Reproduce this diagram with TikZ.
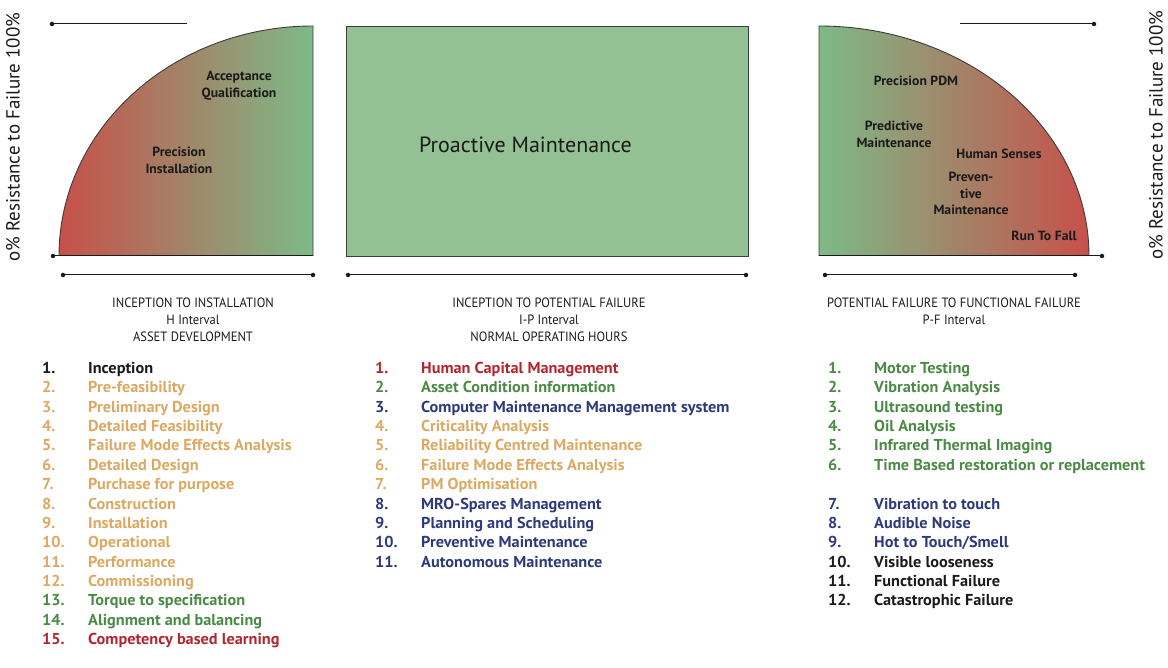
\documentclass[tikz,border=0pt]{standalone}
\usepackage{fontspec}
\setmainfont{PT Sans}
\newfontfamily\condfont[FakeStretch=0.93]{PT Sans}
\newfontfamily\itemfont[FakeStretch=1.03]{PT Sans}
\definecolor{cblack}{HTML}{1A1A1A}
\definecolor{ctan}{HTML}{DCA862}
\definecolor{cgreen}{HTML}{4B8A45}
\definecolor{cred}{HTML}{B3262F}
\definecolor{cnavy}{HTML}{2E3A7C}
\definecolor{qred}{HTML}{C7504A}
\definecolor{qgreen}{HTML}{7DBA87}
\definecolor{pgreen}{HTML}{93C193}
\tikzset{
  item/.style={anchor=base west, inner sep=0pt, font=\itemfont\fontsize{15.8}{18}\selectfont\bfseries},
  qlabel/.style={inner sep=0pt, align=center, text=cblack, font=\itemfont\fontsize{13.3}{16.5}\selectfont\bfseries},
  caption/.style={inner sep=0pt, align=center, text=cblack, font=\condfont\fontsize{13.5}{17}\selectfont},
  rule/.style={draw=cblack, line width=1pt},
  outline/.style={draw=cblack!85, line width=0.9pt},
  dotmark/.style={circle, fill=cblack, inner sep=0pt, minimum size=4.5pt},
  ylab/.style={rotate=90, inner sep=0pt, text=cblack, font=\fontsize{19}{22}\selectfont}
}
\begin{document}
\begin{tikzpicture}[x=1pt,y=-1pt]
\useasboundingbox (0,0) rectangle (1168,668);

% ---- left quarter (H interval)
\shade[left color=qred, right color=qgreen]
  (313,256) -- (59,256) arc[start angle=180, end angle=270, x radius=254, y radius=230] -- cycle;
\draw[outline] (59,256) arc[start angle=180, end angle=270, x radius=254, y radius=230] -- (313,256);
\node[dotmark] (lb0) at (53,256) {};
\coordinate (lb1) at (313,256);
\draw[rule] (lb0.center) -- (lb1);
\node[dotmark] (lt0) at (52,24) {};
\coordinate (lt1) at (187,24);
\draw[rule] (lt0.center) -- (lt1);
\node[dotmark] (lu0) at (63,275) {};
\node[dotmark] (lu1) at (313,275) {};
\draw[rule] (lu0.center) -- (lu1.center);
\node[qlabel] (accq) at (239,85.5) {Acceptance\\Qualification};
\node[qlabel] (pinst) at (179,160.5) {Precision\\Installation};

% ---- middle box
\node[draw=cblack!85, line width=0.9pt, fill=pgreen, minimum width=402pt, minimum height=230pt, inner sep=0pt] (pbox) at (547,141) {};
\node[inner sep=0pt, text=cblack, font=\fontsize{22}{26}\selectfont] (ptext) at (525.5,145) {Proactive Maintenance};
\node[dotmark] (mu0) at (348,275) {};
\node[dotmark] (mu1) at (746,275) {};
\draw[rule] (mu0.center) -- (mu1.center);

% ---- right quarter (P-F interval)
\shade[left color=qgreen, right color=qred]
  (819,256) -- (819,26) arc[start angle=270, end angle=360, x radius=270, y radius=230] -- cycle;
\draw[outline] (819,256) -- (819,26) arc[start angle=270, end angle=360, x radius=270, y radius=230];
\coordinate (rb0) at (819,256);
\node[dotmark] (rb1) at (1102,256) {};
\draw[rule] (rb0) -- (rb1.center);
\coordinate (rt0) at (960,24);
\node[dotmark] (rt1) at (1094,24) {};
\draw[rule] (rt0) -- (rt1.center);
\node[dotmark] (ru0) at (825,275) {};
\node[dotmark] (ru1) at (1075,275) {};
\draw[rule] (ru0.center) -- (ru1.center);
\node[qlabel] (ppdm) at (916,81) {Precision PDM};
\node[qlabel] (pdm) at (894,134.5) {Predictive\\Maintenance};
\node[qlabel] (hs) at (999,154) {Human Senses};
\node[qlabel] (prev) at (971,193.5) {Preven-\\tive\\Maintenance};
\node[qlabel] (rtf) at (1044,236) {Run To Fall};

% ---- side labels
\node[ylab] (yl) at (13,137) {o\% Resistance to Failure 100\%};
\node[ylab] (yr) at (1156,135) {o\% Resistance to Failure 100\%};

% ---- captions
\node[caption] (capL) at (193,320) {INCEPTION TO INSTALLATION\\H Interval\\ASSET DEVELOPMENT};
\node[caption] (capM) at (549,320) {INCEPTION TO POTENTIAL FAILURE\\I-P Interval\\NORMAL OPERATING HOURS};
\node[caption] (capR) at (954,311.5) {POTENTIAL FAILURE TO FUNCTIONAL FAILURE\\P-F Interval};

% ---- left list
\foreach \p/\t/\c in {1/Inception/cblack, 2/Pre-feasibility/ctan, 3/Preliminary Design/ctan,
  4/Detailed Feasibility/ctan, 5/Failure Mode Effects Analysis/ctan, 6/Detailed Design/ctan,
  7/Purchase for purpose/ctan, 8/Construction/ctan, 9/Installation/ctan, 10/Operational/ctan,
  11/Performance/ctan, 12/Commissioning/ctan, 13/Torque to specification/cgreen,
  14/Alignment and balancing/cgreen, 15/Competency based learning/cred}{
  \node[item, text=\c] (Ln\p) at (42,{373.5+(\p-1)*19.36}) {\p.};
  \node[item, text=\c] (Lt\p) at (88,{373.5+(\p-1)*19.36}) {\t};
}

% ---- middle list
\foreach \p/\t/\c in {1/Human Capital Management/cred, 2/Asset Condition information/cgreen,
  3/Computer Maintenance Management system/cnavy, 4/Criticality Analysis/ctan,
  5/Reliability Centred Maintenance/ctan, 6/Failure Mode Effects Analysis/ctan,
  7/PM Optimisation/ctan, 8/MRO-Spares Management/cnavy, 9/Planning and Scheduling/cnavy,
  10/Preventive Maintenance/cnavy, 11/Autonomous Maintenance/cnavy}{
  \node[item, text=\c] (Mn\p) at (375,{373.5+(\p-1)*19.36}) {\p.};
  \node[item, text=\c] (Mt\p) at (421,{373.5+(\p-1)*19.36}) {\t};
}

% ---- right list
\foreach \p/\k/\t/\c in {1/1/Motor Testing/cgreen, 2/2/Vibration Analysis/cgreen,
  3/3/Ultrasound testing/cgreen, 4/4/Oil Analysis/cgreen, 5/5/Infrared Thermal Imaging/cgreen,
  6/6/Time Based restoration or replacement/cgreen, 8/7/Vibration to touch/cnavy,
  9/8/Audible Noise/cnavy, 10/9/{Hot to Touch/Smell}/cnavy, 11/10/Visible looseness/cblack,
  12/11/Functional Failure/cblack, 13/12/Catastrophic Failure/cblack}{
  \node[item, text=\c] (Rn\k) at (828,{373.5+(\p-1)*19.36}) {\k.};
  \node[item, text=\c] (Rt\k) at (874,{373.5+(\p-1)*19.36}) {\t};
}
\end{tikzpicture}
\end{document}
